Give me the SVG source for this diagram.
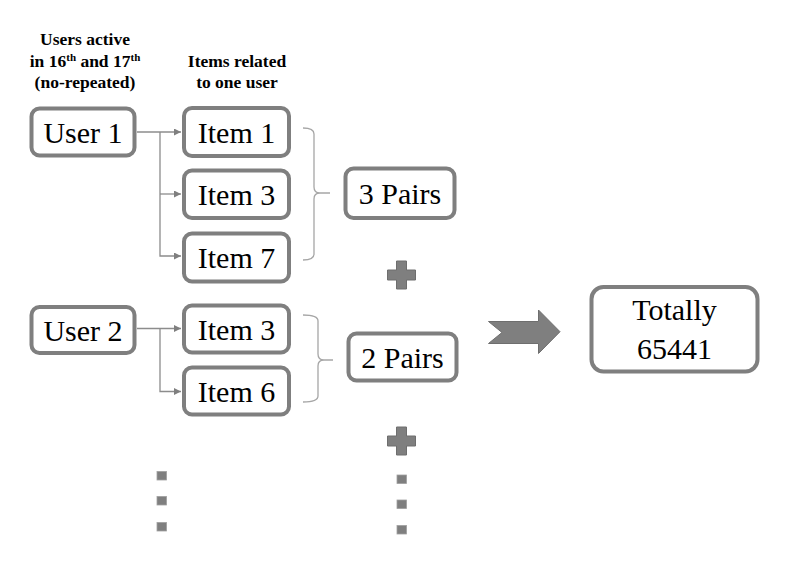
<svg xmlns="http://www.w3.org/2000/svg" width="794" height="584" viewBox="0 0 794 584">
<style>
.box{fill:#fff;stroke:#7f7f7f;stroke-width:4}
.t{font-family:'Liberation Serif','DejaVu Serif',serif;font-size:30px;font-weight:normal;fill:#000;text-anchor:middle}
.h{font-family:'Liberation Serif','DejaVu Serif',serif;font-size:17.5px;font-weight:bold;fill:#000;text-anchor:middle}
.sup{font-size:11px}
.conn{fill:none;stroke:#8c8c8c;stroke-width:1.3}
.brace{fill:none;stroke:#a6a6a6;stroke-width:1.3}
.shape{fill:#7f7f7f;stroke:#6e6e6e;stroke-width:1}
.dot{fill:#7f7f7f;stroke:#a0a0a0;stroke-width:0.8}
</style>
<defs>
<marker id="ah" markerUnits="userSpaceOnUse" markerWidth="8" markerHeight="8" refX="7" refY="3.5" orient="auto">
<path d="M0,0 L7,3.5 L0,7 z" fill="#7f7f7f"/>
</marker>
</defs>
<rect width="794" height="584" fill="#fff"/>
<g id="headers">
<text class="h" x="85" y="45">Users active</text>
<text class="h" x="85" y="67">in 16<tspan class="sup" dy="-6">th</tspan><tspan dy="6"> and 17</tspan><tspan class="sup" dy="-6">th</tspan></text>
<text class="h" x="85" y="88">(no-repeated)</text>
<text class="h" x="237" y="67">Items related</text>
<text class="h" x="237" y="88">to one user</text>
</g>
<g id="connectors">
<path class="conn" d="M137 132 H181" marker-end="url(#ah)"/>
<path class="conn" d="M160 132 V256 H181" marker-end="url(#ah)"/>
<path class="conn" d="M160 194 H181" marker-end="url(#ah)"/>
<path class="conn" d="M137 328.5 H181" marker-end="url(#ah)"/>
<path class="conn" d="M160 328.5 V391.5 H181" marker-end="url(#ah)"/>
<path class="brace" d="M303 128 Q314 128 314 134 V187 Q314 193 320 193 H330 M320 193 Q314 193 314 199 V254 Q314 260 303 260"/>
<path class="brace" d="M303 315 Q318 315 318 321 V354 Q318 360 324 360 H333 M324 360 Q318 360 318 366 V396 Q318 402 303 402"/>
</g>
<g id="user1"><rect class="box" x="31.5" y="108.5" width="103" height="47" rx="8"/><text class="t" x="83" y="142.5">User 1</text></g>
<g id="item1"><rect class="box" x="184" y="108" width="105" height="48" rx="8"/><text class="t" x="236.5" y="142.5">Item 1</text></g>
<g id="item3a"><rect class="box" x="184" y="170.5" width="105" height="47.5" rx="8"/><text class="t" x="236.5" y="204.5">Item 3</text></g>
<g id="item7"><rect class="box" x="184" y="233.5" width="105" height="48" rx="8"/><text class="t" x="236.5" y="267.5">Item 7</text></g>
<g id="pairs3"><rect class="box" x="345.5" y="168.5" width="109" height="49.5" rx="8"/><text class="t" x="400" y="203.5">3 Pairs</text></g>
<g id="user2"><rect class="box" x="31.5" y="307" width="103" height="46" rx="8"/><text class="t" x="83" y="340.5">User 2</text></g>
<g id="item3b"><rect class="box" x="184" y="305.5" width="105" height="47" rx="8"/><text class="t" x="236.5" y="339.5">Item 3</text></g>
<g id="item6"><rect class="box" x="184" y="367.5" width="105" height="47" rx="8"/><text class="t" x="236.5" y="401.5">Item 6</text></g>
<g id="pairs2"><rect class="box" x="348.5" y="333.5" width="108" height="47" rx="8"/><text class="t" x="402.5" y="367.5">2 Pairs</text></g>
<g id="total"><rect class="box" x="591.5" y="287" width="166" height="84.5" rx="12"/><text class="t" x="674.5" y="320">Totally</text><text class="t" x="674.5" y="359">65441</text></g>
<g id="plus1"><polygon class="shape" points="396.5,261 406.5,261 406.5,270 415.5,270 415.5,280 406.5,280 406.5,289 396.5,289 396.5,280 387.5,280 387.5,270 396.5,270"/></g>
<g id="plus2"><polygon class="shape" points="396.5,427 406.5,427 406.5,436 415.5,436 415.5,446 406.5,446 406.5,455 396.5,455 396.5,446 387.5,446 387.5,436 396.5,436"/></g>
<g id="bigarrow"><polygon class="shape" points="488.5,321.5 538.5,321.5 538.5,310 560,331.7 538.5,353.5 538.5,343.5 488.5,343.5 502,332.5"/></g>
<g id="dots">
<rect class="dot" x="157" y="471.5" width="9.5" height="8.5"/>
<rect class="dot" x="157" y="496.5" width="9.5" height="8.5"/>
<rect class="dot" x="157" y="522.5" width="9.5" height="8.5"/>
<rect class="dot" x="397" y="475" width="9.5" height="8.5"/>
<rect class="dot" x="397" y="500" width="9.5" height="8.5"/>
<rect class="dot" x="397" y="525.5" width="9.5" height="8.5"/>
</g>
</svg>
